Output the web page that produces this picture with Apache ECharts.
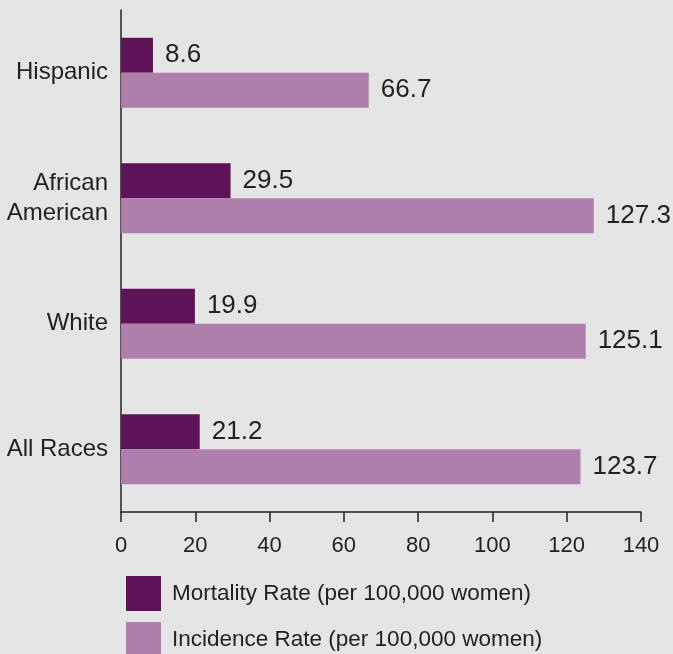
<!DOCTYPE html>
<html>
<head>
<meta charset="utf-8">
<script src="https://cdn.jsdelivr.net/npm/echarts@6/dist/echarts.min.js"></script>
<style>
html,body{margin:0;padding:0;background:#e5e5e5;}
#chart{width:673px;height:654px;}
</style>
</head>
<body>
<div id="chart"></div>
<script>
const categories = ['Hispanic', 'African\nAmerican', 'White', 'All Races'];
const mortality = [8.6, 29.5, 19.9, 21.2];
const incidence = [66.7, 127.3, 125.1, 123.7];
const seriesNames = ['Mortality Rate (per 100,000 women)', 'Incidence Rate (per 100,000 women)'];
const xTicks = [0, 20, 40, 60, 80, 100, 120, 140];

const font = '"Liberation Sans", Arial, sans-serif';
const chart = echarts.init(document.getElementById('chart'));
chart.setOption({
  backgroundColor: '#e5e5e5',
  animation: false,
  grid: {left: 121, right: 32, top: 10, height: 502, containLabel: false},
  legend: {
    orient: 'vertical', left: 126, top: 576, height: 120, itemWidth: 35, itemHeight: 35, itemGap: 11,
    icon: 'rect', padding: 0,
    textStyle: {fontFamily: font, fontSize: 22.5, color: '#222', padding: [2, 0, 0, 6]},
    data: seriesNames
  },
  xAxis: {
    type: 'value', min: xTicks[0], max: xTicks[xTicks.length - 1], interval: 20,
    axisLine: {show: true, lineStyle: {color: '#222', width: 1.5}},
    axisTick: {show: true, length: 10, lineStyle: {color: '#222', width: 1.5}},
    splitLine: {show: false},
    axisLabel: {fontFamily: font, fontSize: 22, color: '#222', margin: 23}
  },
  yAxis: {
    type: 'category', data: categories, inverse: true,
    axisLine: {show: true, lineStyle: {color: '#222', width: 1.5}},
    axisTick: {show: false},
    axisLabel: {fontFamily: font, fontSize: 24, color: '#222', margin: 13, align: 'right', lineHeight: 30}
  },
  series: [
    {
      name: seriesNames[0], type: 'bar', data: mortality, barWidth: 35, barGap: '0%',
      itemStyle: {color: '#5e1257'},
      label: {show: true, position: 'right', distance: 12, fontFamily: font, fontSize: 26, color: '#222'}
    },
    {
      name: seriesNames[1], type: 'bar', data: incidence, barWidth: 35, barGap: '0%',
      itemStyle: {color: '#ae7faa'},
      label: {show: true, position: 'right', distance: 12, fontFamily: font, fontSize: 26, color: '#222'}
    }
  ]
});
</script>
</body>
</html>
